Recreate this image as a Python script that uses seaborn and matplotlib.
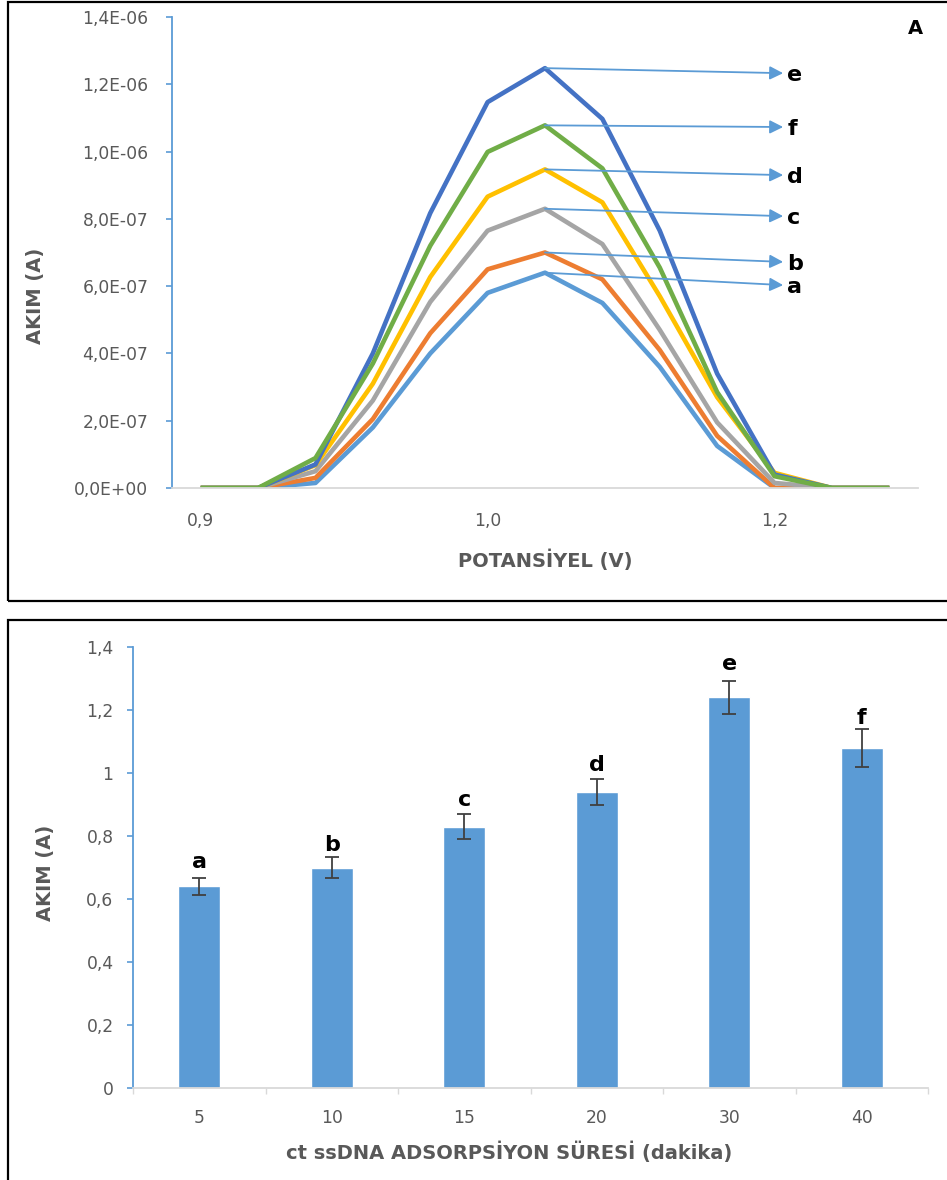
import numpy as np
import pandas as pd
import matplotlib
matplotlib.use("Agg")
import matplotlib.pyplot as plt
import seaborn as sns
from matplotlib.ticker import FuncFormatter, FixedLocator
from matplotlib.patches import Rectangle

# ---------------- data: panel A (voltammograms, current in µA) ----------------
point_index = list(range(13))
x_tick_positions = [0, 5, 10]
x_tick_labels = ["0,9", "1,0", "1,2"]
series_names = ["a", "b", "c", "d", "e", "f"]
curve_a = [0, 0, 0.015, 0.18, 0.40, 0.58, 0.64, 0.55, 0.36, 0.125, 0.0, 0, 0]
curve_b = [0, 0, 0.03, 0.205, 0.46, 0.65, 0.70, 0.62, 0.41, 0.155, 0.0, 0, 0]
curve_c = [0, 0, 0.05, 0.26, 0.553, 0.765, 0.83, 0.725, 0.47, 0.195, 0.015, 0, 0]
curve_d = [0, 0, 0.068, 0.31, 0.627, 0.866, 0.947, 0.849, 0.57, 0.27, 0.045, 0, 0]
curve_e = [0, 0, 0.07, 0.40, 0.817, 1.147, 1.248, 1.097, 0.765, 0.34, 0.04, 0, 0]
curve_f = [0, 0, 0.089, 0.37, 0.72, 0.999, 1.078, 0.95, 0.655, 0.285, 0.035, 0, 0]
arrow_label_level_uA = [0.603, 0.672, 0.808, 0.930, 1.233, 1.073]

# ---------------- data: panel B (bar chart) ----------------
adsorption_times = ["5", "10", "15", "20", "30", "40"]
peak_current = [0.64, 0.70, 0.83, 0.94, 1.24, 1.08]
peak_error = [0.028, 0.032, 0.04, 0.04, 0.053, 0.06]
bar_letters = ["a", "b", "c", "d", "e", "f"]

# ---------------- style ----------------
sns.set_style("white")
plt.rcParams["font.family"] = ["DejaVu Sans"]
GRAY_TXT = "#595959"
AXIS_BLUE = "#5B9BD5"
AXIS_GRAY = "#D9D9D9"
series_colors = {"a": "#5B9BD5", "b": "#ED7D31", "c": "#A5A5A5",
                 "d": "#FFC000", "e": "#4472C4", "f": "#70AD47"}

W, H = 947, 1180
fig = plt.figure(figsize=(W / 100, H / 100), dpi=100)
fig.patch.set_facecolor("white")


def rect(l, t, r, b):
    return [l / W, 1 - b / H, (r - l) / W, (b - t) / H]


# panel borders
fig.add_artist(Rectangle((8 / W, 1 - 601 / H), 1.2, (601 - 2) / H, fill=False,
                         ec="black", lw=1.6, transform=fig.transFigure))
fig.add_artist(Rectangle((8 / W, -0.1), 1.2, 0.1 + 1 - 620 / H, fill=False,
                         ec="black", lw=1.6, transform=fig.transFigure))

# ================= panel A =================
ax1 = fig.add_axes(rect(172, 17, 918, 488))
curves = [curve_a, curve_b, curve_c, curve_d, curve_e, curve_f]
df = pd.DataFrame({
    "idx": point_index * len(series_names),
    "current": np.concatenate(curves) * 1e-6,
    "series": np.repeat(series_names, len(point_index)),
})
sns.lineplot(data=df, x="idx", y="current", hue="series", hue_order=series_names,
             palette=series_colors, linewidth=3.3, legend=False, errorbar=None,
             sort=False, ax=ax1)
for ln in ax1.lines:
    ln.set_solid_joinstyle("round")
    ln.set_solid_capstyle("butt")

ax1.set_xlim(-0.5, 12.5)
ax1.set_ylim(0, 1.4e-6)
ax1.yaxis.set_major_locator(FixedLocator(np.arange(0, 1.41e-6, 0.2e-6)))
ax1.yaxis.set_major_formatter(FuncFormatter(lambda v, p: f"{v:.1E}".replace(".", ",")))
ax1.set_xticks(x_tick_positions, x_tick_labels)
ax1.tick_params(axis="y", direction="out", length=4, width=1.2, color=AXIS_BLUE,
                labelcolor=GRAY_TXT, labelsize=12.3, pad=13, left=True)
ax1.tick_params(axis="x", length=0, labelcolor=GRAY_TXT, labelsize=12.3, pad=17)
for s in ["top", "right"]:
    ax1.spines[s].set_visible(False)
ax1.spines["left"].set_color(AXIS_BLUE)
ax1.spines["left"].set_linewidth(1.3)
ax1.spines["bottom"].set_color(AXIS_GRAY)
ax1.spines["bottom"].set_linewidth(1.3)

ax1.set_xlabel("POTANSİYEL (V)", fontsize=14, fontweight="bold", color=GRAY_TXT, va="center")
ax1.xaxis.set_label_coords(0.5, (488 - 560) / 471)
ax1.set_ylabel("AKIM (A)", fontsize=14, fontweight="bold", color=GRAY_TXT, va="center")
ax1.yaxis.set_label_coords((36 - 172) / 746, (488 - 296) / 471)

ax1.text((915 - 172) / 746, (488 - 28) / 471, "A", transform=ax1.transAxes,
         ha="center", va="center", fontsize=14, fontweight="bold", color="black")

for name, curve, lvl in zip(series_names, curves, arrow_label_level_uA):
    ax1.annotate("", xy=(10.15, lvl * 1e-6), xytext=(6, curve[6] * 1e-6),
                 arrowprops=dict(arrowstyle="-|>,head_length=0.8,head_width=0.4",
                                 color=AXIS_BLUE, lw=1.3, shrinkA=0, shrinkB=0),
                 annotation_clip=False)
    ax1.annotate(name, xy=(10.15, lvl * 1e-6), xytext=(3, 0), textcoords="offset points",
                 ha="left", va="center_baseline", fontsize=16, fontweight="bold",
                 color="black", annotation_clip=False)

# ================= panel B =================
ax2 = fig.add_axes(rect(133, 647, 928, 1088))
sns.barplot(x=adsorption_times, y=peak_current, order=adsorption_times,
            color="#5B9BD5", saturation=1, width=0.32, errorbar=None, ax=ax2)
pos = np.arange(len(adsorption_times))
ax2.errorbar(pos, peak_current, yerr=peak_error, fmt="none", ecolor="#404040",
             elinewidth=1.3, capsize=5, capthick=1.3, zorder=5)
letter_gap_pt = [4, 2, 3, 3, 5, 1]
for i, (v, e, lab) in enumerate(zip(peak_current, peak_error, bar_letters)):
    ax2.annotate(lab, xy=(i, v + e), xytext=(0, letter_gap_pt[i]), textcoords="offset points",
                 ha="center", va="bottom", fontsize=16, fontweight="bold", color="black")

ax2.set_xlim(-0.5, 5.5)
ax2.set_ylim(0, 1.4)
ax2.yaxis.set_major_locator(FixedLocator(np.round(np.arange(0, 1.41, 0.2), 1)))
ax2.yaxis.set_major_formatter(FuncFormatter(lambda v, p: f"{round(v, 1):g}".replace(".", ",")))
ax2.xaxis.set_minor_locator(FixedLocator(np.arange(-0.5, 5.6, 1.0)))
ax2.tick_params(axis="y", direction="out", length=4, width=1.2, color=AXIS_BLUE,
                labelcolor=GRAY_TXT, labelsize=12.3, pad=10, left=True)
ax2.tick_params(axis="x", which="major", length=0, labelcolor=GRAY_TXT, labelsize=12.3, pad=15)
ax2.tick_params(axis="x", which="minor", direction="out", length=4, width=1, color=AXIS_GRAY,
                bottom=True)
for s in ["top", "right"]:
    ax2.spines[s].set_visible(False)
ax2.spines["left"].set_color(AXIS_BLUE)
ax2.spines["left"].set_linewidth(1.3)
ax2.spines["bottom"].set_color(AXIS_GRAY)
ax2.spines["bottom"].set_linewidth(1.3)

ax2.set_xlabel("ct ssDNA ADSORPSİYON SÜRESİ (dakika)", fontsize=14, fontweight="bold",
               color=GRAY_TXT, va="center")
ax2.xaxis.set_label_coords((509 - 133) / 795, (1088 - 1152) / 441)
ax2.set_ylabel("AKIM (A)", fontsize=14, fontweight="bold", color=GRAY_TXT, va="center")
ax2.yaxis.set_label_coords((46 - 133) / 795, (1088 - 873) / 441)

fig.savefig("out.png", dpi=100, facecolor="white")
